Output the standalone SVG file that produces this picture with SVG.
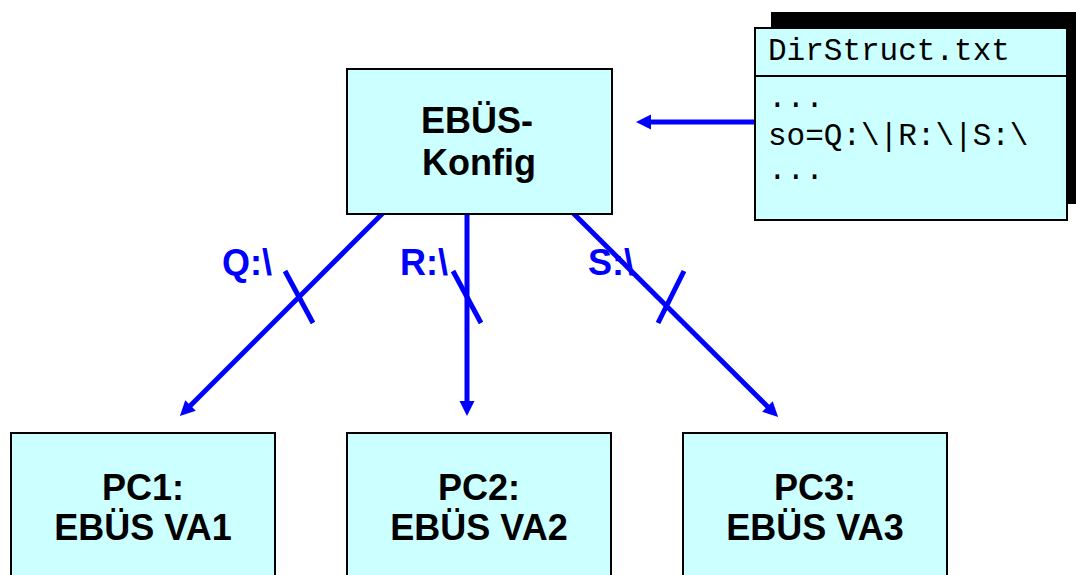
<svg xmlns="http://www.w3.org/2000/svg" width="1076" height="575" viewBox="0 0 1076 575">
<style>
.box{fill:#CCFFFF;stroke:#000;stroke-width:2}
.lbl{font-family:"Liberation Sans",Arial,sans-serif;font-weight:bold;font-size:36px;fill:#000;text-anchor:middle}
.blue{font-family:"Liberation Sans",Arial,sans-serif;font-weight:bold;font-size:36px;fill:#0000FF}
.mono{font-family:"Liberation Mono","Courier New",monospace;font-size:31px;fill:#000}
.conn{stroke:#0000FF;stroke-width:5;fill:none}
</style>
<defs>
<marker id="ah" markerUnits="userSpaceOnUse" markerWidth="16" markerHeight="16" refX="5" refY="7.5" orient="auto">
<path d="M0,0 L15,7.5 L0,15 z" fill="#0000FF"/>
</marker>
</defs>
<rect width="1076" height="575" fill="#fff"/>
<g id="connectors">
<line class="conn" x1="383" y1="213" x2="187" y2="409" marker-end="url(#ah)"/>
<line class="conn" x1="467" y1="213" x2="467" y2="406" marker-end="url(#ah)"/>
<line class="conn" x1="573" y1="213" x2="771" y2="410" marker-end="url(#ah)"/>
<line class="conn" x1="755" y1="122" x2="646" y2="122" marker-end="url(#ah)"/>
<line class="conn" x1="285" y1="271" x2="313" y2="323"/>
<line class="conn" x1="453" y1="271" x2="481" y2="323"/>
<line class="conn" x1="684" y1="271" x2="658" y2="323"/>
<text class="blue" x="222" y="275">Q:\</text>
<text class="blue" x="400" y="275">R:\</text>
<text class="blue" x="588" y="275">S:\</text>
</g>
<g id="ebues-konfig">
<rect class="box" x="347" y="69" width="265" height="145"/>
<text class="lbl" x="477" y="133">EBÜS-</text>
<text class="lbl" x="479" y="175">Konfig</text>
</g>
<g id="dirstruct">
<rect x="771" y="12" width="312" height="192" fill="#000"/>
<rect class="box" x="755" y="28" width="312" height="192"/>
<line x1="755" y1="76" x2="1067" y2="76" stroke="#000" stroke-width="2"/>
<text class="mono" x="768" y="60">DirStruct.txt</text>
<text class="mono" x="768" y="107">...</text>
<text class="mono" x="768" y="145">so=Q:\|R:\|S:\</text>
<text class="mono" x="768" y="179">...</text>
</g>
<g id="pc1">
<rect class="box" x="11" y="433" width="264" height="150"/>
<text class="lbl" x="143" y="500">PC1:</text>
<text class="lbl" x="143" y="540">EBÜS VA1</text>
</g>
<g id="pc2">
<rect class="box" x="347" y="433" width="264" height="150"/>
<text class="lbl" x="479" y="500">PC2:</text>
<text class="lbl" x="479" y="540">EBÜS VA2</text>
</g>
<g id="pc3">
<rect class="box" x="683" y="433" width="264" height="150"/>
<text class="lbl" x="815" y="500">PC3:</text>
<text class="lbl" x="815" y="540">EBÜS VA3</text>
</g>
</svg>
